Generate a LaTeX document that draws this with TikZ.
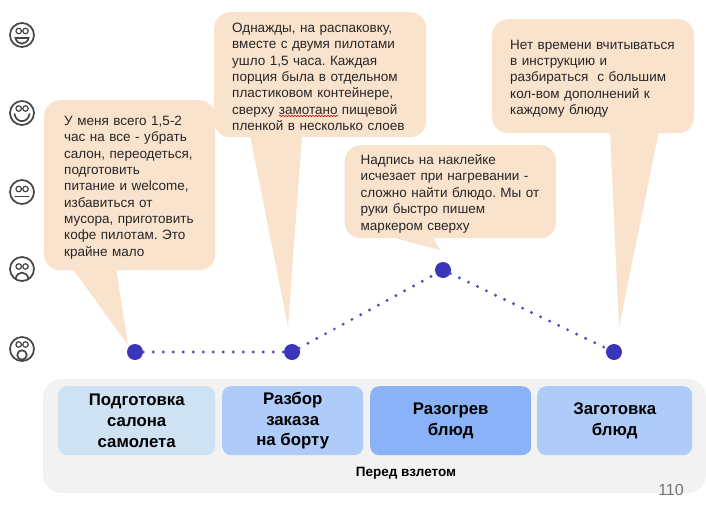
\documentclass[tikz,border=0pt]{standalone}
\usepackage{fontspec}
\setmainfont{Liberation Sans}
\usepackage{tikz}
\usetikzlibrary{shapes}
\usetikzlibrary{calc}
\usetikzlibrary{positioning}
\usetikzlibrary{decorations.pathmorphing}
\definecolor{bubble}{HTML}{FAE3CD}
\definecolor{panel}{HTML}{F2F2F2}
\definecolor{stepa}{HTML}{CFE2F3}
\definecolor{stepb}{HTML}{AFCBFA}
\definecolor{stepc}{HTML}{8AB3F7}
\definecolor{pointc}{HTML}{3B35BA}
\definecolor{facec}{HTML}{444444}
\tikzset{
  bubbletext/.style={anchor=north west, fill=bubble, rounded corners=16pt, align=left, inner ysep=0pt, text=black!85, font=\fontsize{13.5}{16.35}\selectfont\frenchspacing, execute at begin node={\rule{0pt}{14pt}}},
  tail/.style={fill=bubble},
  stepbox/.style={anchor=north west, fill=#1, rounded corners=9pt, align=center, inner sep=0pt, font=\fontsize{16.8}{20.8}\selectfont\bfseries},
  point/.style={circle, fill=pointc, minimum size=16pt, inner sep=0pt},
  trail/.style={pointc!90!white, line width=3.2pt, line cap=round, dash pattern=on 0pt off 10pt},
  face/.style={circle, draw=facec, line width=1.7pt, minimum size=24pt, inner sep=0pt},
  eye/.style={circle, draw=facec, line width=1.2pt, minimum size=5.5pt, inner sep=0pt},
  mouth/.style={draw=facec, line width=1.7pt, line cap=round},
}
\begin{document}
\begin{tikzpicture}[x=1pt, y=-1pt]
\useasboundingbox (0,0) rectangle (706,506);

% callouts
\fill[tail] (72,268) -- (116,268) -- (128,345) -- cycle;
\fill[tail] (250,135) -- (302,135) -- (288,327) -- cycle;
\fill[tail] (387,236) -- (432,236) -- (440,250) -- cycle;
\fill[tail] (610,131) -- (659,131) -- (619,327) -- cycle;

\node[bubbletext, inner xsep=20pt, minimum height=170pt, text width=131pt] (B1) at (44,100) {У меня всего 1,5-2\\час на все - убрать\\салон, переодеться,\\подготовить\\питание и welcome,\\избавиться от\\мусора, приготовить\\кофе пилотам. Это\\крайне мало};
\node[bubbletext, inner xsep=18pt, minimum height=125pt, text width=176pt] (B2) at (214,12) {Однажды, на распаковку,\\вместе с двумя пилотами\\ушло 1,5 часа. Каждая\\порция была в отдельном\\пластиковом контейнере,\\сверху замотано пищевой\\пленкой в несколько слоев};
\node[bubbletext, inner xsep=16pt, minimum height=93pt, text width=179.5pt] (B3) at (344.5,145) {Надпись на наклейке\\исчезает при нагревании -\\сложно найти блюдо. Мы от\\руки быстро пишем\\маркером сверху};
\node[bubbletext, inner xsep=18pt, minimum height=114pt, text width=166pt] (B4) at (492,19) {Нет времени вчитываться\\в инструкцию и\\разбираться\ \ с большим\\кол-вом дополнений к\\каждому блюду};

\draw[red!70!black, line width=0.5pt, decorate, decoration={snake, amplitude=0.7pt, segment length=3pt}] (279,116) -- (338,116);

% timeline
\node[point] (P1) at (135,352) {};
\node[point] (P2) at (292,352) {};
\node[point] (P3) at (443,270) {};
\node[point] (P4) at (614,352) {};
\draw[trail] (P1) -- (P2);
\draw[trail] (P2) -- (P3);
\draw[trail] (P3) -- (P4);

% stages
\fill[panel] (43,379) [rounded corners=18pt] rectangle (706,493);
\node[stepbox=stepa, minimum width=157pt, minimum height=69pt] (S1) at (58,386) {Подготовка\\салона\\самолета};
\node[stepbox=stepb, minimum width=141pt, minimum height=69pt] (S2) at (222,386) {Разбор\\заказа\\на борту};
\node[stepbox=stepc, minimum width=161pt, minimum height=69pt] (S3) at (370,386) {Разогрев\\блюд};
\node[stepbox=stepb, minimum width=155pt, minimum height=69pt] (S4) at (537,386) {Заготовка\\блюд};
\node[font=\fontsize{13.5}{15}\selectfont\bfseries] (T1) at (406,473) {Перед взлетом};
\node[font=\fontsize{16}{18}\selectfont, text=black!55] (T2) at (671,490) {110};

% faces
\node[face] (F1) at (22,35) {};
\node[eye] (F1L) at (18.7,31) {};
\node[eye] (F1R) at (25.5,31) {};
\draw[mouth, fill=white] (15.5,38) .. controls (17,45.5) and (27,45.5) .. (28.5,38) -- cycle;

\node[face] (F2) at (22,113) {};
\node[eye] (F2L) at (18.7,108.5) {};
\node[eye] (F2R) at (25.5,108.5) {};
\draw[mouth] (14.5,114) .. controls (16,123.5) and (28,123.5) .. (29.5,114);

\node[face] (F3) at (22,192) {};
\node[eye] (F3L) at (18.7,189) {};
\node[eye] (F3R) at (25.5,189) {};
\draw[mouth] (15.3,196.5) -- (28.7,196.5);

\node[face] (F4) at (22,269) {};
\node[eye] (F4L) at (18.7,266.5) {};
\node[eye] (F4R) at (25.5,266.5) {};
\draw[mouth] (15.5,279) .. controls (17,270.5) and (27,270.5) .. (28.5,279);

\node[face] (F5) at (22,349) {};
\node[eye] (F5L) at (18.7,344.5) {};
\node[eye] (F5R) at (25.5,344.5) {};
\node[face, minimum size=9.5pt] (F5M) at (22,355) {};
\end{tikzpicture}
\end{document}
